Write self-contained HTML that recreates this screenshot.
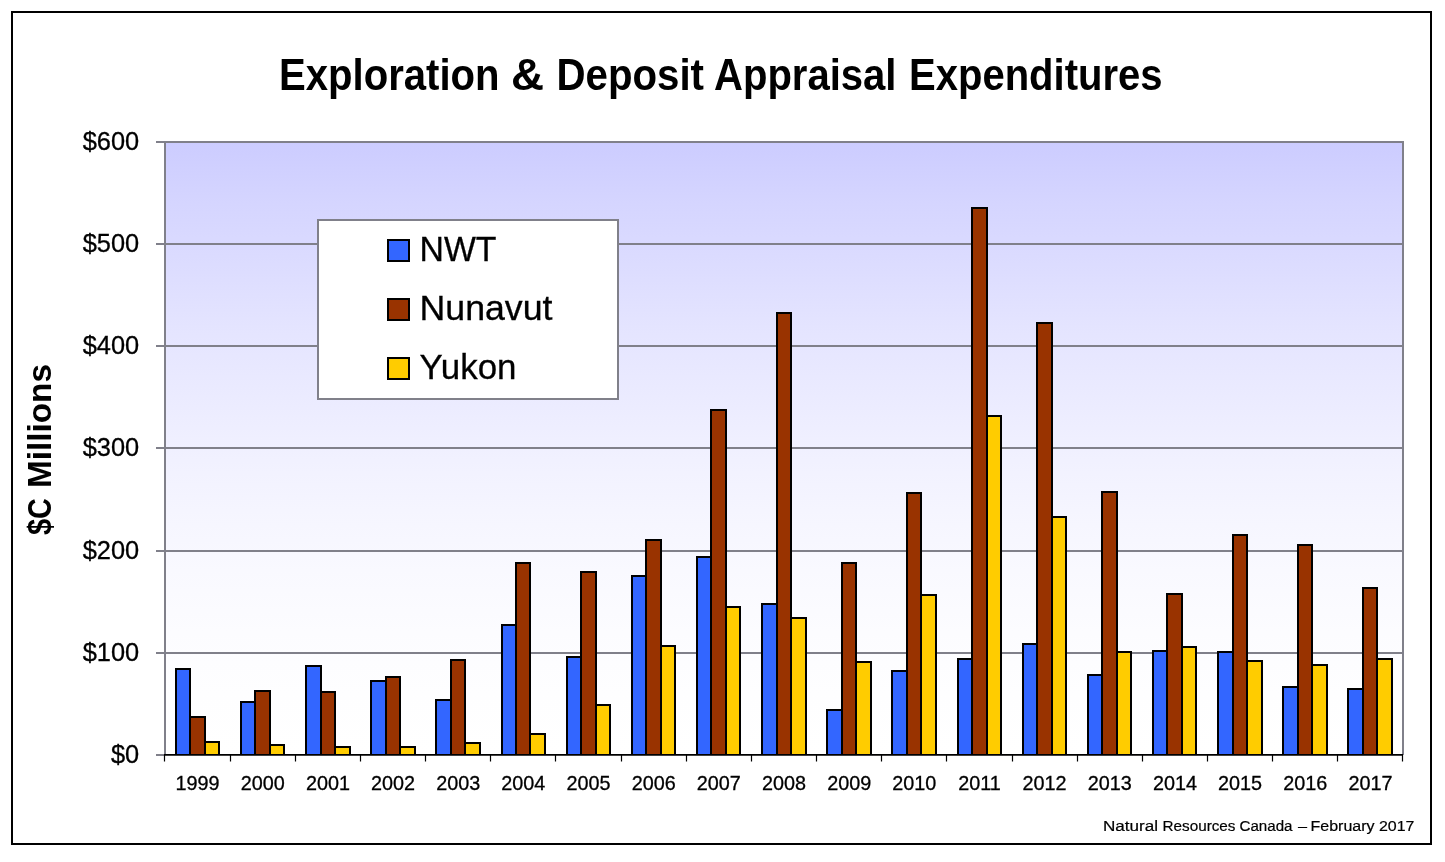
<!DOCTYPE html>
<html><head><meta charset="utf-8"><title>Exploration &amp; Deposit Appraisal Expenditures</title>
<style>
html,body{margin:0;padding:0;background:#fff;}
body{width:1445px;height:862px;overflow:hidden;}
svg{display:block;will-change:transform;font-family:"Liberation Sans",sans-serif;}
</style></head><body>
<svg width="1445" height="862" viewBox="0 0 1445 862">
<defs><linearGradient id="bg" x1="0" y1="0" x2="0" y2="1"><stop offset="0.0" stop-color="#CCCCFF"/><stop offset="0.1" stop-color="#D5D5FF"/><stop offset="0.2" stop-color="#DCDCFF"/><stop offset="0.3" stop-color="#E4E4FF"/><stop offset="0.4" stop-color="#EAEAFF"/><stop offset="0.5" stop-color="#F0F0FF"/><stop offset="0.6" stop-color="#F5F5FF"/><stop offset="0.7" stop-color="#F9F9FF"/><stop offset="0.8" stop-color="#FCFCFF"/><stop offset="0.9" stop-color="#FEFEFF"/><stop offset="1.0" stop-color="#FFFFFF"/></linearGradient></defs>
<rect x="0" y="0" width="1445" height="862" fill="#fff"/>
<rect x="12" y="12" width="1419" height="832" fill="#fff" stroke="#000" stroke-width="2"/>
<text x="279.00" y="90" font-size="43.6" font-weight="bold" fill="#000" textLength="220.51" lengthAdjust="spacingAndGlyphs">Exploration</text><text x="511.00" y="90" font-size="43.6" font-weight="bold" fill="#000" textLength="33.01" lengthAdjust="spacingAndGlyphs">&amp;</text><text x="556.52" y="90" font-size="43.6" font-weight="bold" fill="#000" textLength="147.49" lengthAdjust="spacingAndGlyphs">Deposit</text><text x="714.00" y="90" font-size="43.6" font-weight="bold" fill="#000" textLength="182.50" lengthAdjust="spacingAndGlyphs">Appraisal</text><text x="909.00" y="90" font-size="43.6" font-weight="bold" fill="#000" textLength="253.49" lengthAdjust="spacingAndGlyphs">Expenditures</text>
<rect x="165" y="142" width="1238" height="613" fill="url(#bg)"/>
<path d="M156 142H1403M156 244H1403M156 346H1403M156 448H1403M156 551H1403M156 653H1403" stroke="#80808a" stroke-width="2" fill="none"/>
<path d="M165 141V755M1403 141V755M156 755H165" stroke="#80808a" stroke-width="2" fill="none"/>
<rect x="176" y="669" width="14" height="86" fill="#3366FF"/><rect x="190" y="717" width="15" height="38" fill="#993300"/><rect x="205" y="742" width="14" height="13" fill="#FFCC00"/><rect x="241" y="702" width="14" height="53" fill="#3366FF"/><rect x="255" y="691" width="15" height="64" fill="#993300"/><rect x="270" y="745" width="14" height="10" fill="#FFCC00"/><rect x="306" y="666" width="15" height="89" fill="#3366FF"/><rect x="321" y="692" width="14" height="63" fill="#993300"/><rect x="335" y="747" width="15" height="8" fill="#FFCC00"/><rect x="371" y="681" width="15" height="74" fill="#3366FF"/><rect x="386" y="677" width="14" height="78" fill="#993300"/><rect x="400" y="747" width="15" height="8" fill="#FFCC00"/><rect x="436" y="700" width="15" height="55" fill="#3366FF"/><rect x="451" y="660" width="14" height="95" fill="#993300"/><rect x="465" y="743" width="15" height="12" fill="#FFCC00"/><rect x="502" y="625" width="14" height="130" fill="#3366FF"/><rect x="516" y="563" width="14" height="192" fill="#993300"/><rect x="530" y="734" width="15" height="21" fill="#FFCC00"/><rect x="567" y="657" width="14" height="98" fill="#3366FF"/><rect x="581" y="572" width="15" height="183" fill="#993300"/><rect x="596" y="705" width="14" height="50" fill="#FFCC00"/><rect x="632" y="576" width="14" height="179" fill="#3366FF"/><rect x="646" y="540" width="15" height="215" fill="#993300"/><rect x="661" y="646" width="14" height="109" fill="#FFCC00"/><rect x="697" y="557" width="14" height="198" fill="#3366FF"/><rect x="711" y="410" width="15" height="345" fill="#993300"/><rect x="726" y="607" width="14" height="148" fill="#FFCC00"/><rect x="762" y="604" width="15" height="151" fill="#3366FF"/><rect x="777" y="313" width="14" height="442" fill="#993300"/><rect x="791" y="618" width="15" height="137" fill="#FFCC00"/><rect x="827" y="710" width="15" height="45" fill="#3366FF"/><rect x="842" y="563" width="14" height="192" fill="#993300"/><rect x="856" y="662" width="15" height="93" fill="#FFCC00"/><rect x="892" y="671" width="15" height="84" fill="#3366FF"/><rect x="907" y="493" width="14" height="262" fill="#993300"/><rect x="921" y="595" width="15" height="160" fill="#FFCC00"/><rect x="958" y="659" width="14" height="96" fill="#3366FF"/><rect x="972" y="208" width="15" height="547" fill="#993300"/><rect x="987" y="416" width="14" height="339" fill="#FFCC00"/><rect x="1023" y="644" width="14" height="111" fill="#3366FF"/><rect x="1037" y="323" width="15" height="432" fill="#993300"/><rect x="1052" y="517" width="14" height="238" fill="#FFCC00"/><rect x="1088" y="675" width="14" height="80" fill="#3366FF"/><rect x="1102" y="492" width="15" height="263" fill="#993300"/><rect x="1117" y="652" width="14" height="103" fill="#FFCC00"/><rect x="1153" y="651" width="14" height="104" fill="#3366FF"/><rect x="1167" y="594" width="15" height="161" fill="#993300"/><rect x="1182" y="647" width="14" height="108" fill="#FFCC00"/><rect x="1218" y="652" width="15" height="103" fill="#3366FF"/><rect x="1233" y="535" width="14" height="220" fill="#993300"/><rect x="1247" y="661" width="15" height="94" fill="#FFCC00"/><rect x="1283" y="687" width="15" height="68" fill="#3366FF"/><rect x="1298" y="545" width="14" height="210" fill="#993300"/><rect x="1312" y="665" width="15" height="90" fill="#FFCC00"/><rect x="1348" y="689" width="15" height="66" fill="#3366FF"/><rect x="1363" y="588" width="14" height="167" fill="#993300"/><rect x="1377" y="659" width="15" height="96" fill="#FFCC00"/>
<path d="M176 755V669H190V755M190 755V717H205V755M205 755V742H219V755M241 755V702H255V755M255 755V691H270V755M270 755V745H284V755M306 755V666H321V755M321 755V692H335V755M335 755V747H350V755M371 755V681H386V755M386 755V677H400V755M400 755V747H415V755M436 755V700H451V755M451 755V660H465V755M465 755V743H480V755M502 755V625H516V755M516 755V563H530V755M530 755V734H545V755M567 755V657H581V755M581 755V572H596V755M596 755V705H610V755M632 755V576H646V755M646 755V540H661V755M661 755V646H675V755M697 755V557H711V755M711 755V410H726V755M726 755V607H740V755M762 755V604H777V755M777 755V313H791V755M791 755V618H806V755M827 755V710H842V755M842 755V563H856V755M856 755V662H871V755M892 755V671H907V755M907 755V493H921V755M921 755V595H936V755M958 755V659H972V755M972 755V208H987V755M987 755V416H1001V755M1023 755V644H1037V755M1037 755V323H1052V755M1052 755V517H1066V755M1088 755V675H1102V755M1102 755V492H1117V755M1117 755V652H1131V755M1153 755V651H1167V755M1167 755V594H1182V755M1182 755V647H1196V755M1218 755V652H1233V755M1233 755V535H1247V755M1247 755V661H1262V755M1283 755V687H1298V755M1298 755V545H1312V755M1312 755V665H1327V755M1348 755V689H1363V755M1363 755V588H1377V755M1377 755V659H1392V755" fill="none" stroke="#000" stroke-width="2" stroke-linejoin="miter"/>
<path d="M164 754.9H1403" stroke="#000" stroke-width="1.6" fill="none"/><path d="M164.5 755V761.5M230.5 755V761.5M295.5 755V761.5M360.5 755V761.5M425.5 755V761.5M490.5 755V761.5M555.5 755V761.5M621.5 755V761.5M686.5 755V761.5M751.5 755V761.5M816.5 755V761.5M881.5 755V761.5M946.5 755V761.5M1012.5 755V761.5M1077.5 755V761.5M1142.5 755V761.5M1207.5 755V761.5M1272.5 755V761.5M1337.5 755V761.5M1402.5 755V761.5" stroke="#000" stroke-width="1.2" fill="none"/>
<rect x="318" y="220" width="300" height="179" fill="#fff" stroke="#80808a" stroke-width="2"/><rect x="388" y="240" width="21" height="21" fill="#3366FF" stroke="#000" stroke-width="2"/><text x="419.5" y="261" font-size="35.6" stroke="#000" stroke-width="0.3" textLength="77" lengthAdjust="spacingAndGlyphs">NWT</text><rect x="388" y="299" width="21" height="21" fill="#993300" stroke="#000" stroke-width="2"/><text x="419.5" y="320" font-size="35.6" stroke="#000" stroke-width="0.3" textLength="133" lengthAdjust="spacingAndGlyphs">Nunavut</text><rect x="388" y="358" width="21" height="21" fill="#FFCC00" stroke="#000" stroke-width="2"/><text x="419.5" y="379" font-size="35.6" stroke="#000" stroke-width="0.3" textLength="97" lengthAdjust="spacingAndGlyphs">Yukon</text>
<g font-size="25.4" fill="#000" stroke="#000" stroke-width="0.3"><text x="139.2" y="150.3" text-anchor="end">$600</text><text x="139.2" y="252.3" text-anchor="end">$500</text><text x="139.2" y="354.3" text-anchor="end">$400</text><text x="139.2" y="456.3" text-anchor="end">$300</text><text x="139.2" y="559.3" text-anchor="end">$200</text><text x="139.2" y="661.3" text-anchor="end">$100</text><text x="139.2" y="763.3" text-anchor="end">$0</text></g>
<g font-size="19.8" fill="#000" stroke="#000" stroke-width="0.3"><text x="197.58" y="790" text-anchor="middle">1999</text><text x="262.74" y="790" text-anchor="middle">2000</text><text x="327.89" y="790" text-anchor="middle">2001</text><text x="393.05" y="790" text-anchor="middle">2002</text><text x="458.21" y="790" text-anchor="middle">2003</text><text x="523.37" y="790" text-anchor="middle">2004</text><text x="588.53" y="790" text-anchor="middle">2005</text><text x="653.68" y="790" text-anchor="middle">2006</text><text x="718.84" y="790" text-anchor="middle">2007</text><text x="784.00" y="790" text-anchor="middle">2008</text><text x="849.16" y="790" text-anchor="middle">2009</text><text x="914.32" y="790" text-anchor="middle">2010</text><text x="979.47" y="790" text-anchor="middle">2011</text><text x="1044.63" y="790" text-anchor="middle">2012</text><text x="1109.79" y="790" text-anchor="middle">2013</text><text x="1174.95" y="790" text-anchor="middle">2014</text><text x="1240.11" y="790" text-anchor="middle">2015</text><text x="1305.26" y="790" text-anchor="middle">2016</text><text x="1370.42" y="790" text-anchor="middle">2017</text></g>
<text transform="translate(51.3,535.00) rotate(-90)" font-size="32.4" font-weight="bold" fill="#000" textLength="36.95" lengthAdjust="spacingAndGlyphs">$C</text><text transform="translate(51.3,488.02) rotate(-90)" font-size="32.4" font-weight="bold" fill="#000" textLength="124.03" lengthAdjust="spacingAndGlyphs">Millions</text>
<text x="1102.99" y="830.7" font-size="15.1" fill="#000" stroke="#000" stroke-width="0.2" textLength="55.02" lengthAdjust="spacingAndGlyphs">Natural</text><text x="1162.51" y="830.7" font-size="15.1" fill="#000" stroke="#000" stroke-width="0.2" textLength="72.99" lengthAdjust="spacingAndGlyphs">Resources</text><text x="1239.53" y="830.7" font-size="15.1" fill="#000" stroke="#000" stroke-width="0.2" textLength="52.99" lengthAdjust="spacingAndGlyphs">Canada</text><text x="1297.93" y="830.7" font-size="15.1" fill="#000" stroke="#000" stroke-width="0.2" textLength="9.07" lengthAdjust="spacingAndGlyphs">–</text><text x="1310.52" y="830.7" font-size="15.1" fill="#000" stroke="#000" stroke-width="0.2" textLength="63.98" lengthAdjust="spacingAndGlyphs">February</text><text x="1379.01" y="830.7" font-size="15.1" fill="#000" stroke="#000" stroke-width="0.2" textLength="35.50" lengthAdjust="spacingAndGlyphs">2017</text>
</svg>
</body></html>
